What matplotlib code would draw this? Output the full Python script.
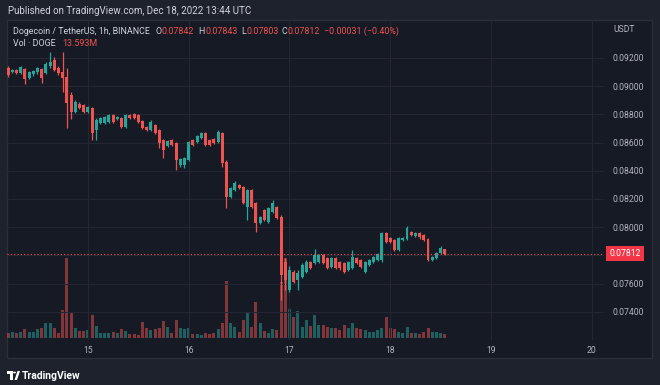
import numpy as np
import matplotlib.pyplot as plt
import matplotlib.transforms as mtransforms
from matplotlib.patches import Rectangle, Polygon, Circle

plt.rcParams['font.family'] = ['Roboto', 'DejaVu Sans']

# DOGE/USDT 1h candles, Dec 14 05:00 -> Dec 18 13:00 UTC (Binance)
opens = [0.09129, 0.09101, 0.09115, 0.09094, 0.09122, 0.09058, 0.09087, 0.09101, 0.09122, 0.09094,
         0.09143, 0.09186, 0.09129, 0.09101, 0.09065, 0.08938, 0.08817, 0.08874, 0.08867, 0.08817,
         0.08846, 0.08690, 0.08739, 0.08739, 0.08746, 0.08796, 0.08768, 0.08775, 0.08711, 0.08796,
         0.08803, 0.08796, 0.08753, 0.08711, 0.08690, 0.08725, 0.08690, 0.08619, 0.08576, 0.08619,
         0.08597, 0.08441, 0.08441, 0.08477, 0.08619, 0.08604, 0.08633, 0.08668, 0.08619, 0.08626,
         0.08604, 0.08668, 0.08463, 0.08214, 0.08264, 0.08300, 0.08285, 0.08144, 0.08264, 0.08172,
         0.08030, 0.08122, 0.08037, 0.08108, 0.08144, 0.08073, 0.07754, 0.07555, 0.07683, 0.07626,
         0.07648, 0.07683, 0.07754, 0.07747, 0.07754, 0.07803, 0.07782, 0.07718, 0.07782, 0.07754,
         0.07747, 0.07697, 0.07711, 0.07782, 0.07768, 0.07683, 0.07732, 0.07754, 0.07768, 0.07768,
         0.07959, 0.07924, 0.07910, 0.07839, 0.07910, 0.07917, 0.07966, 0.07938, 0.07959, 0.07945,
         0.07917, 0.07768, 0.07782, 0.07817, 0.07842]
highs = [0.09143, 0.09122, 0.09122, 0.09143, 0.09129, 0.09108, 0.09115, 0.09136, 0.09129, 0.09172,
         0.09243, 0.09207, 0.09143, 0.09243, 0.09129, 0.08959, 0.08902, 0.08888, 0.08874, 0.08860,
         0.08853, 0.08775, 0.08782, 0.08789, 0.08803, 0.08803, 0.08789, 0.08782, 0.08803, 0.08803,
         0.08810, 0.08803, 0.08760, 0.08718, 0.08760, 0.08732, 0.08697, 0.08626, 0.08619, 0.08626,
         0.08604, 0.08491, 0.08498, 0.08612, 0.08626, 0.08654, 0.08675, 0.08675, 0.08626, 0.08633,
         0.08690, 0.08675, 0.08477, 0.08285, 0.08328, 0.08307, 0.08292, 0.08271, 0.08271, 0.08179,
         0.08080, 0.08129, 0.08143, 0.08193, 0.08151, 0.08087, 0.07782, 0.07725, 0.07697, 0.07697,
         0.07746, 0.07768, 0.07761, 0.07846, 0.07810, 0.07810, 0.07789, 0.07789, 0.07789, 0.07761,
         0.07754, 0.07761, 0.07839, 0.07789, 0.07775, 0.07761, 0.07775, 0.07796, 0.07817, 0.07966,
         0.07966, 0.07931, 0.07917, 0.07931, 0.07931, 0.08009, 0.07973, 0.07966, 0.07966, 0.07952,
         0.07924, 0.07796, 0.07825, 0.07867, 0.07843]
lows = [0.09065, 0.09094, 0.09087, 0.09087, 0.09016, 0.09051, 0.09072, 0.09087, 0.09023, 0.09087,
        0.09129, 0.09108, 0.09079, 0.08959, 0.08704, 0.08768, 0.08810, 0.08838, 0.08810, 0.08810,
        0.08619, 0.08619, 0.08732, 0.08732, 0.08739, 0.08739, 0.08760, 0.08704, 0.08704, 0.08768,
        0.08768, 0.08739, 0.08697, 0.08682, 0.08682, 0.08661, 0.08562, 0.08491, 0.08569, 0.08576,
        0.08406, 0.08427, 0.08420, 0.08470, 0.08576, 0.08597, 0.08626, 0.08576, 0.08576, 0.08590,
        0.08597, 0.08427, 0.08136, 0.08207, 0.08257, 0.08271, 0.08165, 0.08052, 0.08136, 0.07967,
        0.08023, 0.08044, 0.08030, 0.08101, 0.08058, 0.07484, 0.07555, 0.07541, 0.07605, 0.07555,
        0.07640, 0.07676, 0.07704, 0.07739, 0.07747, 0.07739, 0.07704, 0.07711, 0.07704, 0.07697,
        0.07676, 0.07690, 0.07704, 0.07739, 0.07711, 0.07676, 0.07725, 0.07747, 0.07761, 0.07754,
        0.07888, 0.07888, 0.07832, 0.07832, 0.07903, 0.07910, 0.07938, 0.07931, 0.07917, 0.07903,
        0.07761, 0.07761, 0.07775, 0.07810, 0.07803]
closes = [0.09079, 0.09115, 0.09094, 0.09136, 0.09051, 0.09101, 0.09108, 0.09129, 0.09058, 0.09157,
          0.09172, 0.09115, 0.09094, 0.09058, 0.08881, 0.08817, 0.08888, 0.08846, 0.08817, 0.08853,
          0.08668, 0.08760, 0.08775, 0.08782, 0.08796, 0.08746, 0.08782, 0.08711, 0.08796, 0.08775,
          0.08775, 0.08746, 0.08704, 0.08690, 0.08746, 0.08668, 0.08597, 0.08548, 0.08612, 0.08583,
          0.08477, 0.08484, 0.08491, 0.08604, 0.08583, 0.08647, 0.08668, 0.08583, 0.08583, 0.08597,
          0.08675, 0.08456, 0.08214, 0.08278, 0.08314, 0.08278, 0.08172, 0.08264, 0.08144, 0.08030,
          0.08073, 0.08051, 0.08136, 0.08172, 0.08066, 0.07661, 0.07626, 0.07697, 0.07612, 0.07676,
          0.07732, 0.07754, 0.07711, 0.07803, 0.07803, 0.07747, 0.07711, 0.07782, 0.07711, 0.07711,
          0.07683, 0.07754, 0.07789, 0.07747, 0.07718, 0.07754, 0.07768, 0.07789, 0.07810, 0.07959,
          0.07895, 0.07895, 0.07839, 0.07924, 0.07924, 0.07995, 0.07944, 0.07959, 0.07931, 0.07910,
          0.07768, 0.07789, 0.07817, 0.07853, 0.07812]
# volume in millions of DOGE
volumes = [17, 20, 17, 20, 31, 20, 20, 31, 34, 51,
           51, 34, 17, 95, 269, 88, 34, 24, 24, 27,
           78, 41, 17, 17, 17, 20, 17, 31, 24, 14,
           14, 10, 54, 34, 27, 31, 34, 58, 37, 17,
           61, 34, 31, 34, 14, 14, 10, 17, 14, 17,
           31, 51, 190, 51, 37, 20, 61, 85, 37, 122,
           51, 24, 17, 31, 27, 187, 269, 99, 71, 92,
           37, 61, 41, 78, 44, 44, 37, 34, 34, 27,
           44, 34, 51, 34, 31, 27, 20, 20, 27, 34,
           71, 34, 31, 20, 17, 37, 17, 17, 14, 20,
           34, 20, 20, 17, 13.6]

day_labels = ["15", "16", "17", "18", "19", "20"]
day_index = [19, 43, 67, 91, 115, 139]   # candle slot of 00:00 for each day
price_ticks = [0.074, 0.076, 0.078, 0.080, 0.082, 0.084, 0.086, 0.088, 0.090, 0.092]
last_price = 0.07812

up_col = '#26a69a'
down_col = '#ef5350'
outer_bg = '#1e222d'
pane_bg = '#161a25'
grid_col = '#242733'
text_col = '#d1d4dc'
axis_col = '#b2b5be'

W, H = 660, 385
def fx(px):
    return px / W
def fy(py):
    return 1 - py / H

o = np.array(opens); c = np.array(closes)
h = np.array(highs); l = np.array(lows)
x = np.arange(len(closes))
colors = np.where(c >= o, up_col, down_col)

fig = plt.figure(figsize=(6.6, 3.85), dpi=100, facecolor=outer_bg)
fig.patches.append(Rectangle((fx(7), fy(358)), fx(652) - fx(7), fy(20) - fy(358),
                             transform=fig.transFigure, facecolor=pane_bg,
                             edgecolor='#2a2e39', lw=1, zorder=-5))

ax = fig.add_axes([fx(7), fy(340), fx(604) - fx(7), fy(20) - fy(340)])
axv = ax.twinx()
ax.set_zorder(axv.get_zorder() + 1)
ax.patch.set_visible(False)
axv.patch.set_visible(False)

# volume
axv.bar(x, volumes, width=0.72, color=colors, alpha=0.5, linewidth=0)
axv.set_ylim(-7, 1070)
axv.set_yticks([])
for s in axv.spines.values():
    s.set_visible(False)

# candles
ax.vlines(x, l, h, colors=colors, linewidth=0.9)
body = np.maximum(np.abs(c - o), 0.00004)
ax.bar(x, body, bottom=np.minimum(o, c), width=0.7, color=colors, linewidth=0)

ax.set_xlim(-0.25, 141.9)
ax.set_ylim(0.07200, 0.09469)
ax.set_xticks(day_index)
ax.set_xticklabels(day_labels)
ax.set_yticks(price_ticks)
# the 0.078 label sits under the last-price tag
ax.set_yticklabels(['' if abs(p - last_price) < 0.0005 else '%.5f' % p for p in price_ticks])
ax.yaxis.tick_right()
ax.tick_params(axis='y', length=0, pad=6, labelsize=6.2, labelcolor=axis_col)
ax.tick_params(axis='x', length=0, pad=4, labelsize=6.2, labelcolor=axis_col)
ax.grid(True, color=grid_col, linewidth=0.8)
ax.set_axisbelow(True)
for s in ax.spines.values():
    s.set_visible(False)

# last price line and label
ax.axhline(last_price, color=down_col, linestyle=(0, (1, 2)), linewidth=0.8)
trans = mtransforms.blended_transform_factory(ax.transAxes, ax.transData)
ax.text((625 - 7) / 597, last_price, '%.5f' % last_price, transform=trans,
        ha='center', va='center', color='white', fontsize=6.2, clip_on=False,
        bbox=dict(boxstyle='square,pad=0.35', fc='#f23645', ec='none'))

# header texts
fig.text(fx(8), fy(11), 'Published on TradingView.com, Dec 18, 2022 13:44 UTC',
         color=text_col, fontsize=7.0, va='center', ha='left')
fig.text(fx(613), fy(30), 'USDT', color=axis_col, fontsize=6.2, va='center', ha='left')

legend_parts = [
    (13, 'Dogecoin / TetherUS, 1h, BINANCE', text_col),
    (155.5, 'O', text_col), (161.5, '0.07842', down_col),
    (198.5, 'H', text_col), (205, '0.07843', down_col),
    (241.5, 'L', text_col), (246.5, '0.07803', down_col),
    (282, 'C', text_col), (288, '0.07812', down_col),
    (324, '\u22120.00031 (\u22120.40%)', down_col),
]
for px, s, col in legend_parts:
    fig.text(fx(px), fy(31), s, color=col, fontsize=6.4, va='center', ha='left')
fig.text(fx(13), fy(44), 'Vol \u00b7 DOGE', color=text_col, fontsize=6.4, va='center', ha='left')
fig.text(fx(62), fy(44), '13.593M', color=down_col, fontsize=6.4, va='center', ha='left')

# footer logo + name
fig.patches.append(Polygon([(fx(7), fy(371)), (fx(12.5), fy(371)), (fx(12.5), fy(380)),
                            (fx(10), fy(380)), (fx(10), fy(374)), (fx(7), fy(374))],
                           closed=True, transform=fig.transFigure, fc='white', ec='none'))
fig.patches.append(Circle((fx(14.5), fy(372.5)), 1.5 / W, transform=fig.transFigure,
                          fc='white', ec='none'))
fig.patches.append(Polygon([(fx(14.5), fy(380)), (fx(17.5), fy(371)), (fx(20), fy(371)),
                            (fx(17), fy(380))],
                           closed=True, transform=fig.transFigure, fc='white', ec='none'))
fig.text(fx(22), fy(376), 'TradingView', color='white', fontsize=7.5, fontweight='bold',
         va='center', ha='left')

fig.savefig('out.png', dpi=100, facecolor=outer_bg)
